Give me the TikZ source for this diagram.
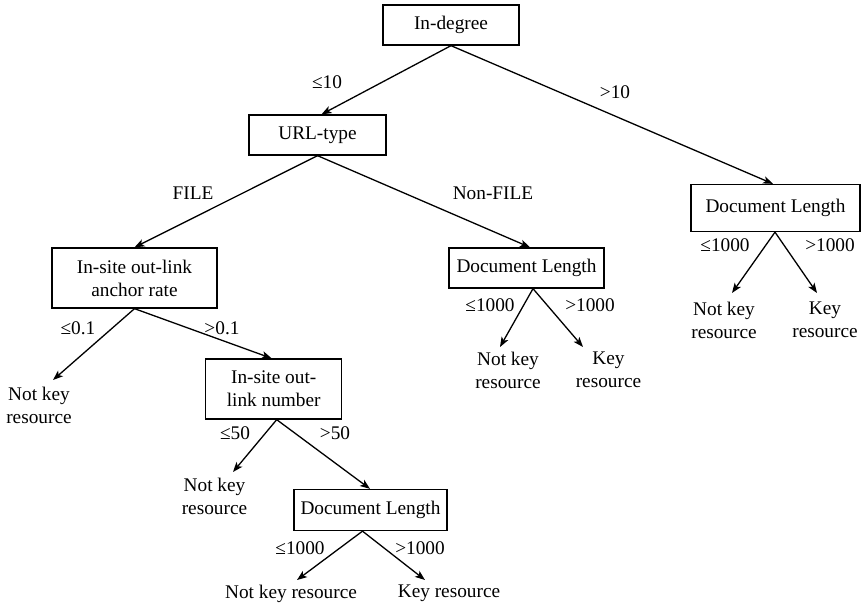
\documentclass[tikz,border=0pt]{standalone}
\usepackage{fontspec}
\setmainfont{Liberation Serif}
\usetikzlibrary{arrows.meta}
\begin{document}
\begin{tikzpicture}[x=1pt,y=-1pt,
  every node/.style={font=\fontsize{19.3}{23}\selectfont},
  box/.style={draw,line width=1.3pt,inner sep=0pt,align=center,minimum height=40pt},
  leaf/.style={inner sep=0pt,align=center,anchor=north},
  lbl/.style={inner sep=0pt},
  edge/.style={line width=1.3pt,-{Stealth[length=10pt,width=7.5pt,inset=2.5pt]}}]
\useasboundingbox (0,0) rectangle (863,603);
% boxes
\node[box,minimum width=136pt] (indeg) at (451,25) {In-degree};
\node[box,minimum width=137pt] (url) at (317.5,135) {URL-type};
\node[box,minimum width=165pt,minimum height=60pt] (anchor) at (134.5,278) {In-site out-link\\anchor rate};
\node[box,minimum width=155pt] (doc2) at (526.5,268) {Document Length};
\node[box,minimum width=169pt,minimum height=47pt] (doc3) at (775.5,208) {Document Length};
\node[box,minimum width=136pt,minimum height=60pt] (num) at (273.7,389) {In-site out-\\link number};
\node[box,minimum width=153pt,minimum height=41pt] (doc4) at (370.5,510) {Document Length};
% leaves
\node[leaf] (leaf1) at (39,387) {Not key\\resource};
\node[leaf] (leaf2) at (214.5,478) {Not key\\resource};
\node[leaf] (leaf3) at (291,585) {Not key resource};
\node[leaf] (leaf4) at (449,585) {Key resource};
\node[leaf] (leaf5) at (508,352) {Not key\\resource};
\node[leaf] (leaf6) at (608.5,352) {Key\\resource};
\node[leaf] (leaf7) at (724,302) {Not key\\resource};
\node[leaf] (leaf8) at (825,302) {Key\\resource};
% edges
\draw[edge] (indeg.south) -- ([xshift=4pt]url.north);
\draw[edge] (indeg.south) -- ([xshift=-2.5pt]doc3.north);
\draw[edge] (url.south) -- (anchor.north);
\draw[edge] (url.south) -- ([xshift=3.5pt]doc2.north);
\draw[edge] (anchor.south) -- ([xshift=14pt,yshift=7pt]leaf1.north);
\draw[edge] (anchor.south) -- ([xshift=-2pt]num.north);
\draw[edge] ([xshift=3pt]num.south) -- ([xshift=18.5pt,yshift=6pt]leaf2.north);
\draw[edge] ([xshift=3pt]num.south) -- ([xshift=-0.5pt]doc4.north);
\draw[edge] ([xshift=-8pt]doc4.south) -- ([xshift=6pt,yshift=5pt]leaf3.north);
\draw[edge] ([xshift=-8pt]doc4.south) -- ([xshift=-24pt,yshift=5pt]leaf4.north);
\draw[edge] ([xshift=6.5pt]doc2.south) -- ([xshift=-8pt,yshift=5pt]leaf5.north);
\draw[edge] ([xshift=6.5pt]doc2.south) -- ([xshift=-25.5pt,yshift=5pt]leaf6.north);
\draw[edge] ([xshift=-0.5pt]doc3.south) -- ([xshift=8pt,yshift=9pt]leaf7.north);
\draw[edge] ([xshift=-0.5pt]doc3.south) -- ([xshift=-8pt,yshift=9pt]leaf8.north);
% labels
\node[lbl] (l1) at (327,82) {≤10};
\node[lbl] (l2) at (615,92) {>10};
\node[lbl] (l3) at (193,193) {FILE};
\node[lbl] (l4) at (493,193) {Non-FILE};
\node[lbl] (l5) at (78,328) {≤0.1};
\node[lbl] (l6) at (222,328) {>0.1};
\node[lbl] (l7) at (235,433) {≤50};
\node[lbl] (l8) at (335,433) {>50};
\node[lbl] (l9) at (300,548) {≤1000};
\node[lbl] (l10) at (420,548) {>1000};
\node[lbl] (l11) at (490,305) {≤1000};
\node[lbl] (l12) at (590,305) {>1000};
\node[lbl] (l13) at (725,245) {≤1000};
\node[lbl] (l14) at (830,245) {>1000};
\end{tikzpicture}
\end{document}
